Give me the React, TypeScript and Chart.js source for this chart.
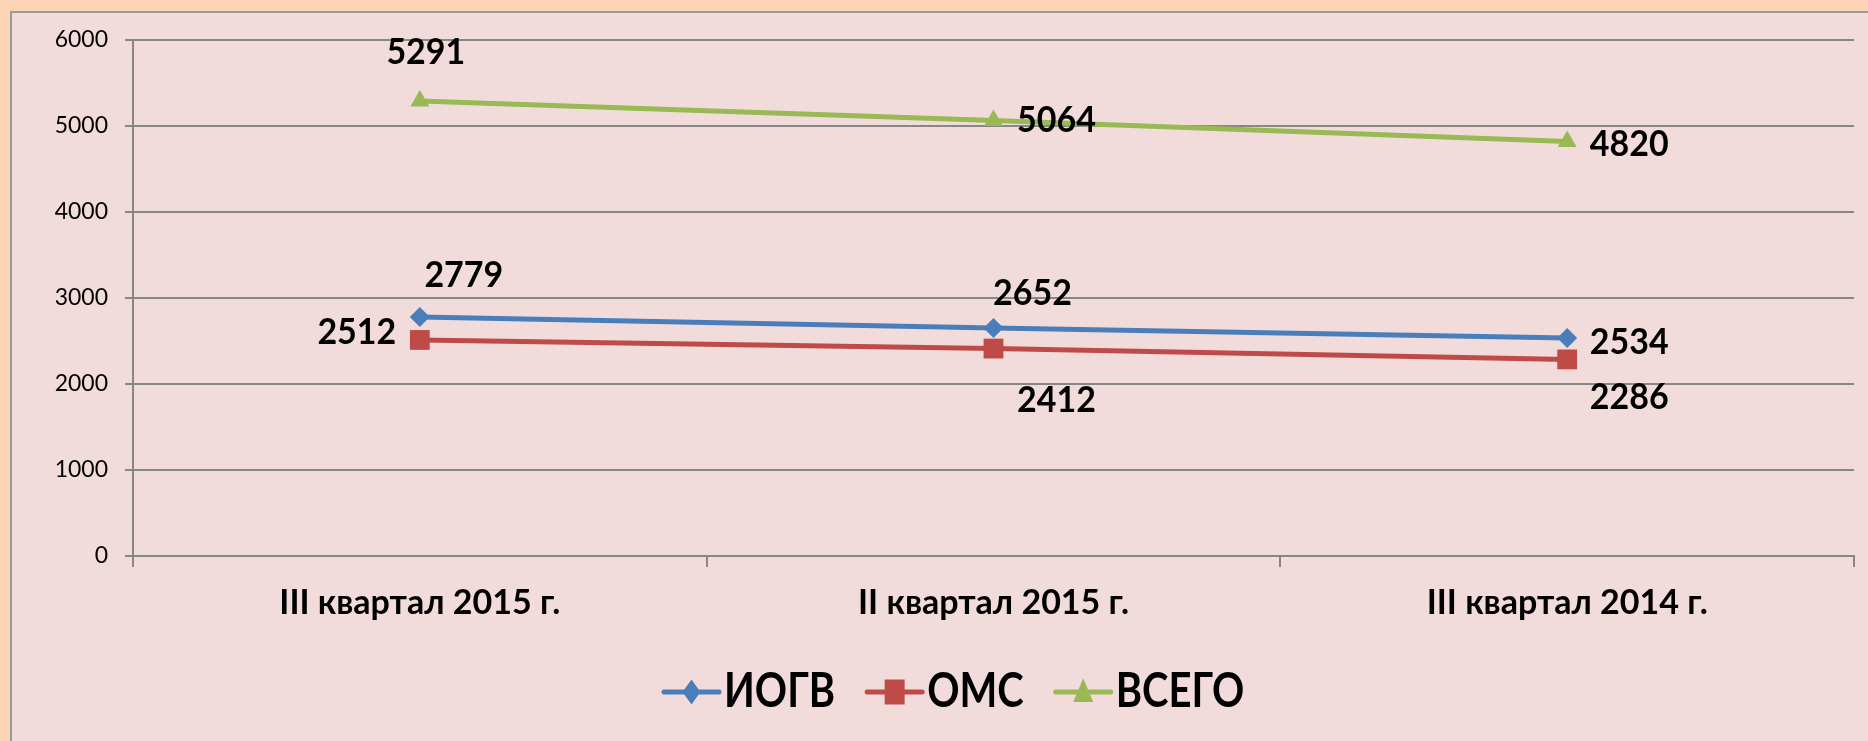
import { useEffect, useRef } from "react";
import { Chart, registerables } from "chart.js";

Chart.register(...registerables);

const categories = ["III квартал 2015 г.", "II квартал 2015 г.", "III квартал 2014 г."];
const seriesNames = ["ИОГВ", "ОМС", "ВСЕГО"];
const iogvValues = [2779, 2652, 2534];
const omsValues = [2512, 2412, 2286];
const totalValues = [5291, 5064, 4820];
const yMin = 0;
const yMax = 6000;
const yStep = 1000;

// label offsets (px) relative to each point: [dx, dy]
const iogvLabelOffsets = [[44, -42], [39, -35], [62, 4]];
const omsLabelOffsets = [[-63, -8], [63, 52], [62, 38]];
const totalLabelOffsets = [[6, -49], [63, 0], [62, 3]];

const W = 1868;
const H = 741;
const FONT = "Lato, 'Open Sans', sans-serif";
const GRID = "#878787";

const bgPlugin = {
  id: "bgPlugin",
  beforeDraw(chart: any) {
    const ctx = chart.ctx;
    ctx.save();
    ctx.fillStyle = "#FCD5B5";
    ctx.fillRect(0, 0, W, H);
    ctx.fillStyle = "#F2DCDB";
    ctx.fillRect(11, 12, W, H);
    ctx.strokeStyle = "#9a9a9a";
    ctx.lineWidth = 2;
    ctx.beginPath();
    ctx.moveTo(11, H + 5);
    ctx.lineTo(11, 12);
    ctx.lineTo(W + 5, 12);
    ctx.stroke();
    ctx.restore();
  },
};

const labelPlugin = {
  id: "labelPlugin",
  afterDatasetsDraw(chart: any) {
    const ctx = chart.ctx;
    const offsets = [iogvLabelOffsets, omsLabelOffsets, totalLabelOffsets];
    ctx.save();
    ctx.font = `bold 34px ${FONT}`;
    ctx.fillStyle = "#000";
    ctx.textAlign = "center";
    ctx.textBaseline = "middle";
    chart.data.datasets.forEach((ds: any, di: number) => {
      const meta = chart.getDatasetMeta(di);
      meta.data.forEach((pt: any, i: number) => {
        const [dx, dy] = offsets[di][i];
        ctx.save();
        ctx.translate(pt.x + dx, pt.y + dy);
        ctx.scale(1, 1.08);
        ctx.fillText(String(ds.data[i]), 0, 0);
        ctx.restore();
      });
    });
    ctx.restore();
  },
};

const legendPlugin = {
  id: "legendPlugin",
  afterDraw(chart: any) {
    const ctx = chart.ctx;
    const cy = 692;
    let x = 664;
    ctx.save();
    ctx.font = `bold 40px ${FONT}`;
    ctx.textBaseline = "middle";
    ctx.textAlign = "left";
    chart.data.datasets.forEach((ds: any) => {
      const lineLen = 55;
      ctx.strokeStyle = ds.borderColor;
      ctx.lineWidth = 5;
      ctx.lineCap = "round";
      ctx.beginPath();
      ctx.moveTo(x, cy);
      ctx.lineTo(x + lineLen, cy);
      ctx.stroke();
      ctx.save();
      ctx.translate(x + lineLen / 2, cy);
      ctx.scale(1, 1.25);
      ctx.fillStyle = ds.backgroundColor;
      ctx.beginPath();
      if (ds.pointStyle === "rectRot") {
        ctx.moveTo(0, -10);
        ctx.lineTo(9, 0);
        ctx.lineTo(0, 10);
        ctx.lineTo(-9, 0);
      } else if (ds.pointStyle === "rect") {
        ctx.rect(-10, -10, 20, 20);
      } else {
        ctx.moveTo(0, -11);
        ctx.lineTo(10, 8);
        ctx.lineTo(-10, 8);
      }
      ctx.closePath();
      ctx.fill();
      ctx.restore();
      ctx.save();
      ctx.translate(x + lineLen + 5, cy);
      ctx.scale(1, 1.2);
      ctx.fillStyle = "#000";
      ctx.fillText(ds.label, 0, 0);
      const tw = ctx.measureText(ds.label).width;
      ctx.restore();
      x += lineLen + 5 + tw + 32;
    });
    ctx.restore();
  },
};

export default function App() {
  const ref = useRef<HTMLCanvasElement | null>(null);
  useEffect(() => {
    const colors = ["#4A7EBB", "#BE4B48", "#98B954"];
    const styles = ["rectRot", "rect", "triangle"];
    const radii = [10, 14, 11];
    const values = [iogvValues, omsValues, totalValues];
    const chart = new Chart(ref.current as HTMLCanvasElement, {
      type: "line",
      data: {
        labels: categories,
        datasets: seriesNames.map((name, i) => ({
          label: name,
          data: values[i],
          borderColor: colors[i],
          backgroundColor: colors[i],
          pointBackgroundColor: colors[i],
          pointBorderColor: colors[i],
          pointBorderWidth: 0,
          pointStyle: styles[i] as any,
          pointRadius: radii[i],
          borderWidth: 5,
          tension: 0,
        })),
      },
      options: {
        animation: false,
        responsive: false,
        layout: { padding: { top: 40, right: 8, left: 0, bottom: 0 } },
        plugins: {
          legend: { display: false },
          tooltip: { enabled: false },
        },
        scales: {
          x: {
            offset: true,
            grid: {
              offset: true,
              drawOnChartArea: false,
              tickLength: 11,
              color: GRID,
              lineWidth: 2,
            },
            border: { color: GRID, width: 2 },
            ticks: {
              color: "#000",
              font: { family: FONT, size: 34, weight: "bold" },
              padding: 16,
              maxRotation: 0,
            },
            afterFit: (s: any) => {
              s.height = H - 556;
            },
          },
          y: {
            min: yMin,
            max: yMax,
            ticks: {
              stepSize: yStep,
              color: "#000",
              font: { family: FONT, size: 23 },
              padding: 17,
              callback: (v: any) => String(v),
            },
            grid: { color: GRID, lineWidth: 2, tickLength: 8 },
            border: { color: GRID, width: 2 },
            afterFit: (s: any) => {
              s.width = 133;
            },
          },
        },
      },
      plugins: [bgPlugin, labelPlugin, legendPlugin],
    });
    return () => chart.destroy();
  }, []);
  return (
    <div style={{ position: "fixed", left: 0, top: 0, width: W, height: H }}>
      <canvas ref={ref} width={W} height={H} style={{ width: W, height: H }} />
    </div>
  );
}
